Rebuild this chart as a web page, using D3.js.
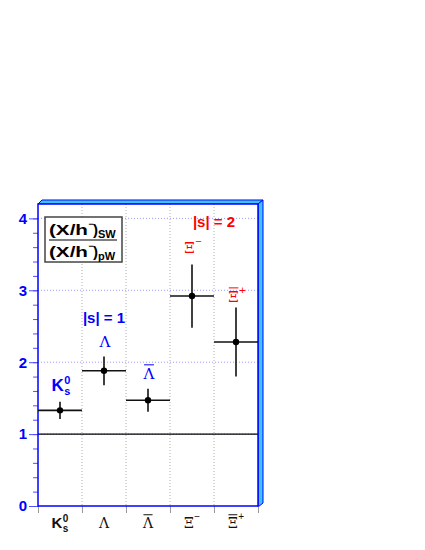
<!DOCTYPE html>
<html>
<head>
<meta charset="utf-8">
<script src="https://cdn.jsdelivr.net/npm/d3@7"></script>
<style>
  body { margin: 0; background: #fff; }
  svg { display: block; }
</style>
</head>
<body>
<div id="chart"></div>
<script>
// particle species, ratio (X/h-)_SW / (X/h-)_pW and its error
const categories = ['K0s', 'Lambda', 'AntiLambda', 'XiMinus', 'AntiXiPlus'];
const ratios = [1.33, 1.88, 1.47, 2.92, 2.28];
const errors = [0.12, 0.20, 0.16, 0.44, 0.48];

// species labels drawn above the points (y in data units)
const labelY = [1.60, 2.21, 1.77, 3.52, 2.84];
const labelColors = ['#0000ff', '#0000ff', '#0000ff', '#ff0000', '#ff0000'];

// strangeness group labels (x in bin units, y in data units)
const groupLabels = ['|s| = 1', '|s| = 2'];
const groupX = [1.5, 4.0];
const groupY = [2.55, 3.88];
const groupColors = ['#0000ff', '#ff0000'];

const yTicks = [0, 1, 2, 3, 4];

const width = 425;
const height = 550;
const frame = { left: 38, right: 258, top: 204, bottom: 506 };
const sans = 'Liberation Sans, Arial, Helvetica, sans-serif';
const serif = 'DejaVu Serif, Liberation Serif, serif';

const svg = d3
  .select('#chart')
  .append('svg')
  .attr('width', width)
  .attr('height', height);

const x = d3
  .scaleBand()
  .domain(categories)
  .range([frame.left, frame.right]);

const xBins = d3
  .scaleLinear()
  .domain([0, categories.length])
  .range([frame.left, frame.right]);

const y = d3
  .scaleLinear()
  .domain([0, 4.2])
  .range([frame.bottom, frame.top]);

// 3d bevel of the frame (top and right)
const bevel = 5;
svg
  .append('polygon')
  .attr('points', [
    [frame.left, frame.top],
    [frame.left + 4, frame.top - 4],
    [frame.right + bevel, frame.top - 4],
    [frame.right, frame.top],
  ].join(' '))
  .attr('fill', '#3cc4ff')
  .attr('stroke', '#0000ff')
  .attr('stroke-width', 1);

svg
  .append('polygon')
  .attr('points', [
    [frame.right, frame.top],
    [frame.right + bevel, frame.top - 4],
    [frame.right + bevel, frame.bottom - 3],
    [frame.right, frame.bottom + 1],
  ].join(' '))
  .attr('fill', '#3cc4ff')
  .attr('stroke', '#0000ff')
  .attr('stroke-width', 1);

svg
  .append('rect')
  .attr('x', frame.left)
  .attr('y', frame.top)
  .attr('width', frame.right - frame.left)
  .attr('height', frame.bottom - frame.top)
  .attr('fill', '#fff');

// grid
svg
  .append('g')
  .selectAll('line')
  .data(d3.range(1, categories.length))
  .enter()
  .append('line')
  .attr('x1', (d) => xBins(d))
  .attr('x2', (d) => xBins(d))
  .attr('y1', frame.top)
  .attr('y2', frame.bottom)
  .attr('stroke', '#b0b0b0')
  .attr('stroke-dasharray', '1,2');

svg
  .append('g')
  .selectAll('line')
  .data(yTicks.slice(1))
  .enter()
  .append('line')
  .attr('x1', frame.left)
  .attr('x2', frame.right)
  .attr('y1', (d) => y(d))
  .attr('y2', (d) => y(d))
  .attr('stroke', '#9a9aff')
  .attr('stroke-dasharray', '1,2');

// y axis: major + minor ticks
const yMinor = svg
  .append('g')
  .attr('transform', `translate(${frame.left},0)`)
  .call(
    d3.axisLeft(y)
      .tickValues(d3.range(0, 4.01, 0.2))
      .tickSize(5)
      .tickFormat(''),
  );
yMinor.select('.domain').remove();
yMinor.selectAll('line').attr('stroke', '#5050ff');

const yAxis = svg
  .append('g')
  .attr('transform', `translate(${frame.left},0)`)
  .call(
    d3.axisLeft(y)
      .tickValues(yTicks)
      .tickSize(9)
      .tickPadding(2)
      .tickFormat(d3.format('d')),
  );
yAxis.select('.domain').remove();
yAxis.selectAll('line').attr('stroke', '#5050ff');
yAxis
  .selectAll('text')
  .attr('fill', '#0000ff')
  .style('font-family', sans)
  .style('font-weight', 'bold')
  .style('font-size', '15px');

// x axis ticks at bin edges
const xAxis = svg
  .append('g')
  .attr('transform', `translate(0,${frame.bottom})`)
  .call(
    d3.axisBottom(xBins)
      .tickValues(d3.range(0, categories.length + 1))
      .tickSize(7)
      .tickFormat(''),
  );
xAxis.select('.domain').remove();
xAxis.selectAll('line').attr('stroke', '#999');

// reference line at 1
svg
  .append('line')
  .attr('x1', frame.left)
  .attr('x2', frame.right)
  .attr('y1', y(1))
  .attr('y2', y(1))
  .attr('stroke', '#000')
  .attr('stroke-width', 1.2);

// frame outline
svg
  .append('rect')
  .attr('x', frame.left)
  .attr('y', frame.top)
  .attr('width', frame.right - frame.left)
  .attr('height', frame.bottom - frame.top)
  .attr('fill', 'none')
  .attr('stroke', '#0000ff')
  .attr('stroke-width', 1.5);

// particle name: main glyph + optional bar, superscript, subscript
function particle(g, cat, cx, base, o) {
  const isK = cat === 'K0s';
  const glyph = isK ? 'K' : cat.includes('Lambda') ? 'Λ' : 'Ξ';
  const sup = isK ? '0' : cat === 'XiMinus' ? '−' : cat === 'AntiXiPlus' ? '+' : null;
  const size = isK ? o.kSize : o.size;

  const main = g
    .append('text')
    .attr('y', base)
    .attr('fill', o.color)
    .style('font-family', isK ? sans : serif)
    .style('font-weight', isK ? 'bold' : 'normal')
    .style('font-size', size + 'px')
    .text(glyph);
  const w = main.node().getComputedTextLength();
  const sw = sup ? o.script * 0.62 : 0;
  const x0 = cx - (w + sw) / 2;
  main.attr('x', x0);

  if (cat.startsWith('Anti')) {
    g.append('line')
      .attr('x1', x0 + 0.5)
      .attr('x2', x0 + w - 0.5)
      .attr('y1', base - size * 0.66 - 4)
      .attr('y2', base - size * 0.66 - 4)
      .attr('stroke', o.color)
      .attr('stroke-width', 1);
  }
  if (sup) {
    g.append('text')
      .attr('x', x0 + w + 0.5)
      .attr('y', isK ? base - size * 0.4 : base - size * 0.55)
      .attr('fill', o.color)
      .style('font-family', sans)
      .style('font-weight', isK ? 'bold' : 'normal')
      .style('font-size', o.script + 'px')
      .text(sup);
  }
  if (isK) {
    g.append('text')
      .attr('x', x0 + w + 0.5)
      .attr('y', base + size * 0.25)
      .attr('fill', o.color)
      .style('font-family', sans)
      .style('font-weight', 'bold')
      .style('font-size', o.script + 'px')
      .text('s');
  }
}

// points with error bars
const points = svg
  .append('g')
  .selectAll('g')
  .data(categories)
  .enter()
  .append('g');

points
  .append('line')
  .attr('x1', (d) => x(d))
  .attr('x2', (d) => x(d) + x.bandwidth())
  .attr('y1', (d, i) => y(ratios[i]))
  .attr('y2', (d, i) => y(ratios[i]))
  .attr('stroke', '#111')
  .attr('stroke-width', 1.6);

points
  .append('line')
  .attr('x1', (d) => x(d) + x.bandwidth() / 2)
  .attr('x2', (d) => x(d) + x.bandwidth() / 2)
  .attr('y1', (d, i) => y(ratios[i] - errors[i]))
  .attr('y2', (d, i) => y(ratios[i] + errors[i]))
  .attr('stroke', '#111')
  .attr('stroke-width', 1.6);

points
  .append('circle')
  .attr('cx', (d) => x(d) + x.bandwidth() / 2)
  .attr('cy', (d, i) => y(ratios[i]))
  .attr('r', 3.2)
  .attr('fill', '#000');

// species labels above points and below the axis
const labels = svg.append('g');
categories.forEach((cat, i) => {
  const cx = x(cat) + x.bandwidth() / 2;
  particle(labels, cat, cx + 1, y(labelY[i]), {
    size: 15, kSize: 17, script: 11, color: labelColors[i],
  });
  particle(labels, cat, cx, frame.bottom + 22, {
    size: 14, kSize: 15, script: 10, color: '#111',
  });
});

// strangeness groups
svg
  .append('g')
  .selectAll('text')
  .data(groupLabels)
  .enter()
  .append('text')
  .attr('x', (d, i) => xBins(groupX[i]))
  .attr('y', (d, i) => y(groupY[i]))
  .attr('text-anchor', 'middle')
  .attr('fill', (d, i) => groupColors[i])
  .style('font-family', sans)
  .style('font-weight', 'bold')
  .style('font-size', '15px')
  .text((d) => d);

// legend box with the ratio definition
const lg = svg.append('g').attr('transform', 'translate(45,217)');
lg.append('rect')
  .attr('width', 77)
  .attr('height', 45)
  .attr('fill', '#fff')
  .attr('stroke', '#444')
  .attr('stroke-width', 1.5);

[['SW', 18], ['pW', 40]].forEach(([sub, base]) => {
  lg.append('text')
    .attr('x', 4)
    .attr('y', base)
    .attr('textLength', 39)
    .attr('lengthAdjust', 'spacingAndGlyphs')
    .style('font-family', sans)
    .style('font-weight', 'bold')
    .style('font-size', '15px')
    .text('(X/h');
  lg.append('text')
    .attr('x', 43.5)
    .attr('y', base - 8)
    .style('font-family', sans)
    .style('font-weight', 'bold')
    .style('font-size', '9px')
    .text('−');
  lg.append('text')
    .attr('x', 48)
    .attr('y', base)
    .style('font-family', sans)
    .style('font-weight', 'bold')
    .style('font-size', '15px')
    .text(')');
  lg.append('text')
    .attr('x', 53)
    .attr('y', base + 3)
    .style('font-family', sans)
    .style('font-weight', 'bold')
    .style('font-size', '11px')
    .text(sub);
});

lg.append('line')
  .attr('x1', 4)
  .attr('x2', 72)
  .attr('y1', 23)
  .attr('y2', 23)
  .attr('stroke', '#000')
  .attr('stroke-width', 1.2);
</script>
</body>
</html>
